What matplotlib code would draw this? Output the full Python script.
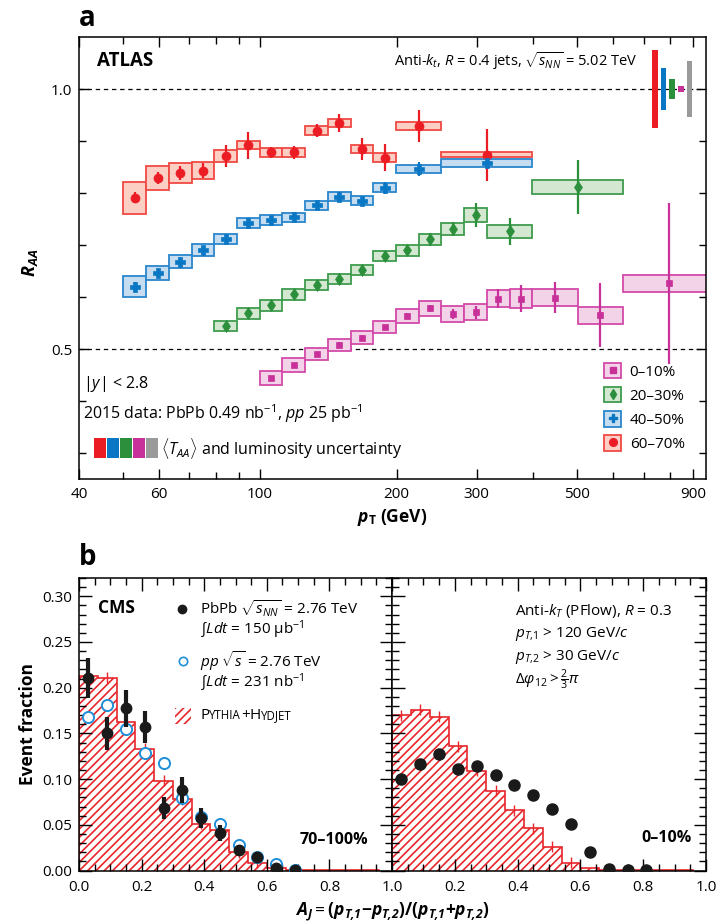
import matplotlib
matplotlib.use('Agg')
import matplotlib.pyplot as plt
import numpy as np
from matplotlib.patches import Rectangle, Patch
from matplotlib.lines import Line2D
from matplotlib.ticker import FixedLocator, NullFormatter, FixedFormatter, MultipleLocator, FormatStrFormatter
from matplotlib.offsetbox import HPacker, TextArea, AnchoredOffsetbox

plt.rcParams['font.family'] = ['Open Sans', 'DejaVu Sans']
plt.rcParams['mathtext.fontset'] = 'custom'
plt.rcParams['mathtext.rm'] = 'Open Sans'
plt.rcParams['mathtext.it'] = 'Open Sans:italic'
plt.rcParams['mathtext.bf'] = 'Open Sans:bold'
plt.rcParams['mathtext.bfit'] = 'Open Sans:italic:bold'
plt.rcParams['mathtext.sf'] = 'Open Sans'
plt.rcParams['hatch.linewidth'] = 1.2
plt.rcParams['hatch.color'] = '#e8262b'

# ---------------- Panel a data (ATLAS R_AA vs pT) ----------------
bins_a_lo = [50.1, 56.2, 63.1, 70.8, 79.4, 89.1, 100, 112.2, 125.9, 141.3, 158.5, 177.8, 199.5, 251.2]
bins_a_hi = [56.2, 63.1, 70.8, 79.4, 89.1, 100, 112.2, 125.9, 141.3, 158.5, 177.8, 199.5, 251.2, 398.1]

raa_6070 = [0.791, 0.829, 0.838, 0.843, 0.871, 0.892, 0.878, 0.878, 0.920, 0.935, 0.885, 0.868, 0.929, 0.874]
stat_6070 = [0.010, 0.012, 0.013, 0.014, 0.021, 0.026, 0.011, 0.012, 0.013, 0.017, 0.021, 0.026, 0.030, 0.050]
sys_6070 = [0.031, 0.023, 0.019, 0.016, 0.011, 0.008, 0.008, 0.009, 0.008, 0.008, 0.008, 0.008, 0.007, 0.005]

raa_4050 = [0.620, 0.647, 0.668, 0.690, 0.711, 0.742, 0.748, 0.753, 0.776, 0.793, 0.785, 0.810, 0.846, 0.858]
stat_4050 = [0.008, 0.007, 0.007, 0.007, 0.007, 0.007, 0.007, 0.007, 0.007, 0.008, 0.008, 0.012, 0.014, 0.006]
sys_4050 = [0.020, 0.0135, 0.012, 0.011, 0.010, 0.009, 0.009, 0.009, 0.008, 0.008, 0.0087, 0.009, 0.008, 0.008]

bins_2030_lo = [79.4, 89.1, 100, 112.2, 125.9, 141.3, 158.5, 177.8, 199.5, 223.9, 251.2, 281.8, 316.2, 398.1]
bins_2030_hi = [89.1, 100, 112.2, 125.9, 141.3, 158.5, 177.8, 199.5, 223.9, 251.2, 281.8, 316.2, 398.1, 631]
raa_2030 = [0.544, 0.569, 0.584, 0.605, 0.624, 0.635, 0.652, 0.679, 0.690, 0.711, 0.731, 0.757, 0.726, 0.812]
stat_2030 = [0.006, 0.006, 0.006, 0.007, 0.007, 0.007, 0.008, 0.009, 0.010, 0.012, 0.013, 0.023, 0.026, 0.052]
sys_2030 = [0.010, 0.0106, 0.0103, 0.0103, 0.0096, 0.0096, 0.0096, 0.0099, 0.0103, 0.011, 0.0115, 0.0135, 0.0125, 0.0135]

bins_010_lo = [100, 112.2, 125.9, 141.3, 158.5, 177.8, 199.5, 223.9, 251.2, 281.8, 316.2, 354.8, 398.1, 501.2, 631]
bins_010_hi = [112.2, 125.9, 141.3, 158.5, 177.8, 199.5, 223.9, 251.2, 281.8, 316.2, 354.8, 398.1, 501.2, 631, 1000]
raa_010 = [0.444, 0.469, 0.490, 0.508, 0.522, 0.542, 0.5635, 0.578, 0.567, 0.571, 0.597, 0.597, 0.599, 0.565, 0.626]
stat_010 = [0.004, 0.004, 0.004, 0.005, 0.005, 0.005, 0.006, 0.006, 0.009, 0.0125, 0.018, 0.026, 0.030, 0.061, 0.155]
sys_010 = [0.0128, 0.0135, 0.011, 0.012, 0.012, 0.011, 0.0135, 0.0147, 0.015, 0.016, 0.017, 0.019, 0.016, 0.016, 0.0167]

norm_unc = [0.075, 0.041, 0.019, 0.006, 0.053]   # 60-70, 40-50, 20-30, 0-10, lumi
centrality_labels = ['0–10%', '20–30%', '40–50%', '60–70%']

# ---------------- Panel b data (CMS A_J) ----------------
aj_edges = [round(0.06 * i, 2) for i in range(17)]
aj_centers = [0.03, 0.09, 0.15, 0.21, 0.27, 0.33, 0.39, 0.45, 0.51, 0.57, 0.63, 0.69]
pbpb_periph = [0.211, 0.150, 0.1775, 0.157, 0.068, 0.088, 0.057, 0.041, 0.022, 0.015, 0.0025, 0.001]
pbpb_periph_err = [0.022, 0.018, 0.020, 0.018, 0.012, 0.014, 0.011, 0.009, 0.006, 0.005, 0.002, 0.001]
pp_ref = [0.168, 0.181, 0.155, 0.129, 0.118, 0.079, 0.058, 0.051, 0.028, 0.015, 0.007, 0.001]
hydjet_periph = [0.213, 0.211, 0.162, 0.133, 0.098, 0.078, 0.051, 0.044, 0.020, 0.0085, 0.0024, 0.001, 0.0004, 0.0002, 0.0001, 0.0001]
hydjet_central = [0.170, 0.176, 0.168, 0.136, 0.109, 0.087, 0.066, 0.046, 0.026, 0.0085, 0.0024, 0.0005, 0.0002, 0.0001, 0.0001, 0.0001]
aj_centers_central = [0.03, 0.09, 0.15, 0.21, 0.27, 0.33, 0.39, 0.45, 0.51, 0.57, 0.63, 0.69, 0.75, 0.81]
pbpb_central = [0.100, 0.1165, 0.128, 0.111, 0.114, 0.105, 0.093, 0.083, 0.067, 0.051, 0.0206, 0.0016, 0.0005, 0.0002]

# ---------------- Figure ----------------
W, H = 717, 922
fig = plt.figure(figsize=(W / 100, H / 100), dpi=100)

def fx(px):
    return px / W

def fy(py):
    return 1 - py / H

axA = fig.add_axes([fx(79), fy(479), 627 / W, 442 / H])
axA.set_xscale('log')
axA.set_xlim(40, 960)
axA.set_ylim(0.25, 1.1)
for yref in (1.0, 0.5):
    axA.axhline(yref, color='black', ls=(0, (3.5, 3)), lw=0.9, zorder=1)

red, blue, green, pink, gray = '#ec1c24', '#0a77c4', '#2b8f3c', '#c8309a', '#9a9a9a'
series = [
    ('60–70%', bins_a_lo, bins_a_hi, raa_6070, stat_6070, sys_6070, red, '#fbcfc4', '#ef4a43', 'o', 6.5),
    ('40–50%', bins_a_lo, bins_a_hi, raa_4050, stat_4050, sys_4050, blue, '#c6dcf1', '#2a86cc', 'P', 7.5),
    ('20–30%', bins_2030_lo, bins_2030_hi, raa_2030, stat_2030, sys_2030, green, '#d3e7d1', '#3e9c4d', 'd', 6),
    ('0–10%', bins_010_lo, bins_010_hi, raa_010, stat_010, sys_010, pink, '#f3d3e8', '#d24aa9', 's', 5),
]
handles = {}
for lab, lo, hi, val, st, sy, col, fill, edge, mk, ms in series:
    lo = np.array(lo); hi = np.array(hi); val = np.array(val); sy = np.array(sy)
    axA.bar(lo, 2 * sy, width=hi - lo, bottom=val - sy, align='edge',
            facecolor=fill, edgecolor=edge, linewidth=1.3, zorder=2)
    xc = np.sqrt(lo * hi)
    axA.errorbar(xc, val, yerr=st, fmt=mk, color=col, ms=ms, mew=0.5,
                 elinewidth=1.6, capsize=0, zorder=3)
    handles[lab] = (Patch(facecolor=fill, edgecolor=edge, linewidth=1.3),
                    Line2D([], [], marker=mk, color=col, ls='none', ms=ms * 0.85))

norm_colors = [red, blue, green, pink, gray]
x0 = 730.0
step = 10 ** (8.7 / 454)
wfac = 10 ** (5.6 / 454)
for i, (u, c) in enumerate(zip(norm_unc, norm_colors)):
    left = x0 * step ** i
    axA.bar(left, 2 * u, width=left * (wfac - 1), bottom=1 - u, align='edge',
            color=c, linewidth=0, zorder=4)

axA.legend([handles[l] for l in centrality_labels], centrality_labels,
           loc='upper left', bbox_to_anchor=(0.838, 0.262), frameon=False,
           handlelength=1.1, handleheight=1.15, handletextpad=0.55,
           labelspacing=0.48, fontsize=11, borderaxespad=0, borderpad=0)

axA.xaxis.set_major_locator(FixedLocator([40, 60, 100, 200, 300, 500, 900]))
axA.xaxis.set_major_formatter(FixedFormatter(['40', '60', '100', '200', '300', '500', '900']))
axA.xaxis.set_minor_locator(FixedLocator([50, 70, 80, 90, 400, 600, 700, 800]))
axA.xaxis.set_minor_formatter(NullFormatter())
axA.yaxis.set_major_locator(FixedLocator([0.5, 1.0]))
axA.yaxis.set_major_formatter(FixedFormatter(['0.5', '1.0']))
axA.yaxis.set_minor_locator(FixedLocator([0.3, 0.4, 0.6, 0.7, 0.8, 0.9]))
axA.yaxis.set_minor_formatter(NullFormatter())
axA.tick_params(which='both', direction='in', top=True, right=True, labelsize=11, width=1)
axA.tick_params(which='major', length=7)
axA.tick_params(which='minor', length=5)
axA.tick_params(axis='x', pad=6)
axA.tick_params(axis='y', pad=5)
for s in axA.spines.values():
    s.set_linewidth(1.1)

axA.text(0.029, 0.945, 'ATLAS', transform=axA.transAxes, fontsize=13.5,
         fontweight='bold', va='center', ha='left')
axA.text(0.890, 0.945, r'Anti-$k_t$, $R$ = 0.4 jets, $\sqrt{s_{NN}}$ = 5.02 TeV',
         transform=axA.transAxes, fontsize=10.5, va='center', ha='right')
axA.text(0.006, 0.215, r'|$y$| < 2.8', transform=axA.transAxes, fontsize=11.5,
         va='center', ha='left')
axA.text(0.006, 0.147, r'2015 data: PbPb 0.49 nb$^{-1}$, $pp$ 25 pb$^{-1}$',
         transform=axA.transAxes, fontsize=11.5, va='center', ha='left')
for i, c in enumerate(norm_colors):
    axA.add_patch(Rectangle((0.0239 + i * 0.0207, 0.047), 0.0191, 0.045,
                            transform=axA.transAxes, facecolor=c, edgecolor='none',
                            clip_on=False, zorder=5))
axA.text(0.131, 0.070, r'$\langle T_{AA}\rangle$ and luminosity uncertainty',
         transform=axA.transAxes, fontsize=11.5, va='center', ha='left')

fig.text(fx(392), fy(518), r'$\mathbfit{p}_{\mathbf{T}}$ (GeV)', fontsize=12.5,
         fontweight='bold', ha='center', va='center')
fig.text(fx(30), fy(263), r'$\mathbfit{R}_{\mathbfit{AA}}$', fontsize=13,
         rotation=90, ha='center', va='center')
fig.text(fx(79), fy(18), 'a', fontsize=20, fontweight='bold', ha='left', va='center')

# ---------------- Panel b ----------------
axL = fig.add_axes([fx(79), fy(870.5), 313 / W, 292.5 / H])
axR = fig.add_axes([fx(392), fy(870.5), 314 / W, 292.5 / H], sharey=axL)
hred = '#e8262b'
for ax, hv in ((axL, hydjet_periph), (axR, hydjet_central)):
    ax.stairs(hv, aj_edges, fill=True, facecolor='white', edgecolor=hred,
              hatch='////', linewidth=1.2, zorder=1)
    ctr = [0.5 * (aj_edges[i] + aj_edges[i + 1]) for i in range(len(hv))]
    nz = [i for i in range(len(hv)) if hv[i] > 0.004]
    ax.errorbar([ctr[i] for i in nz], [hv[i] for i in nz], yerr=0.006, fmt='none',
                ecolor=hred, elinewidth=1.0, capsize=0, zorder=2)
    ax.set_xlim(0, 1)
    ax.set_ylim(0, 0.32)
    ax.xaxis.set_major_locator(MultipleLocator(0.2))
    ax.xaxis.set_minor_locator(MultipleLocator(0.05))
    ax.yaxis.set_major_locator(MultipleLocator(0.05))
    ax.yaxis.set_minor_locator(MultipleLocator(0.01))
    ax.tick_params(which='both', direction='in', top=True, right=True, labelsize=11, width=1)
    ax.tick_params(which='major', length=9)
    ax.tick_params(which='minor', length=5)
    ax.tick_params(axis='x', pad=7)
    ax.tick_params(axis='y', pad=5)
    for s in ax.spines.values():
        s.set_linewidth(1.1)

axL.errorbar(aj_centers, pp_ref, fmt='o', ms=8, mfc='white', mec='#1e8fd8', mew=1.4,
             zorder=3)
axL.errorbar(aj_centers, pbpb_periph, yerr=pbpb_periph_err, fmt='o', color='#1a1a1a',
             ms=7.5, elinewidth=3, capsize=0, zorder=4)
axR.errorbar(aj_centers_central, pbpb_central, fmt='o', color='#1a1a1a', ms=8, zorder=4)

axL.yaxis.set_major_formatter(FormatStrFormatter('%.2f'))
axL.xaxis.set_major_formatter(FormatStrFormatter('%.1f'))
axR.xaxis.set_major_formatter(FixedFormatter(['', '0.2', '0.4', '0.6', '0.8', '1.0']))
axR.xaxis.set_major_locator(FixedLocator([0, 0.2, 0.4, 0.6, 0.8, 1.0]))
axR.tick_params(labelleft=False)

axL.text(0.061, 0.897, 'CMS', transform=axL.transAxes, fontsize=12.5,
         fontweight='bold', va='center', ha='left')
axL.plot([0.329], [0.894], 'o', color='#1a1a1a', ms=6, transform=axL.transAxes)
axL.text(0.387, 0.894, r'PbPb $\sqrt{s_{NN}}$ = 2.76 TeV', transform=axL.transAxes,
         fontsize=11, va='center', ha='left')
axL.text(0.387, 0.822, r'$\int Ldt$ = 150 μb$^{-1}$', transform=axL.transAxes,
         fontsize=11, va='center', ha='left')
axL.plot([0.332], [0.716], 'o', mfc='white', mec='#1e8fd8', mew=1.2, ms=6,
         transform=axL.transAxes)
axL.text(0.387, 0.716, r'$pp$ $\sqrt{s}$ = 2.76 TeV', transform=axL.transAxes,
         fontsize=11, va='center', ha='left')
axL.text(0.387, 0.641, r'$\int Ldt$ = 231 nb$^{-1}$', transform=axL.transAxes,
         fontsize=11, va='center', ha='left')
axL.add_patch(Rectangle((0.307, 0.501), 0.051, 0.055, transform=axL.transAxes,
                        facecolor='white', edgecolor=hred, hatch='////', linewidth=0,
                        zorder=3))
parts = [('P', 11), ('YTHIA', 8.3), ('+', 11), ('H', 11), ('YDJET', 8.3)]
pack = HPacker(children=[TextArea(t, textprops=dict(size=s)) for t, s in parts],
               align='baseline', pad=0, sep=0)
axL.add_artist(AnchoredOffsetbox(loc='center left', child=pack, pad=0, borderpad=0,
                                 frameon=False, bbox_to_anchor=(0.387, 0.529),
                                 bbox_transform=axL.transAxes))
axL.text(0.923, 0.104, '70–100%', transform=axL.transAxes, fontsize=11.5,
         fontweight='bold', va='center', ha='right')

axR.text(0.392, 0.887, r'Anti-$k_T$ (PFlow), $R$ = 0.3', transform=axR.transAxes,
         fontsize=11, va='center', ha='left')
axR.text(0.392, 0.809, r'$p_{T{,}1}$ > 120 GeV/$c$', transform=axR.transAxes,
         fontsize=11, va='center', ha='left')
axR.text(0.392, 0.730, r'$p_{T{,}2}$ > 30 GeV/$c$', transform=axR.transAxes,
         fontsize=11, va='center', ha='left')
axR.text(0.392, 0.651, r'$\Delta\varphi_{12} > \frac{2}{3}\pi$', transform=axR.transAxes,
         fontsize=11, va='center', ha='left')
axR.text(0.955, 0.111, '0–10%', transform=axR.transAxes, fontsize=11.5,
         fontweight='bold', va='center', ha='right')

fig.text(fx(392), fy(912), r'$\mathbfit{A_J} = \mathbf{(}\mathbfit{p_{T{,}1}}\mathbf{-}\mathbfit{p_{T{,}2}}\mathbf{)/(}\mathbfit{p_{T{,}1}}\mathbf{+}\mathbfit{p_{T{,}2}}\mathbf{)}$',
         fontsize=12.5, ha='center', va='center')
fig.text(fx(28), fy(724), 'Event fraction', fontsize=12.5, fontweight='bold',
         rotation=90, ha='center', va='center')
fig.text(fx(79), fy(557), 'b', fontsize=20, fontweight='bold', ha='left', va='center')

fig.savefig('out.png', dpi=100)
